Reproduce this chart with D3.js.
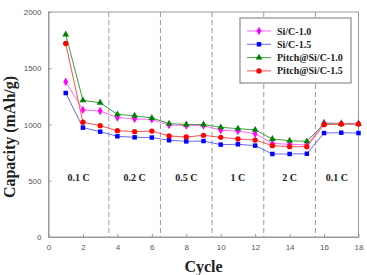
<!DOCTYPE html>
<html>
<head>
<meta charset="utf-8">
<script src="https://cdn.jsdelivr.net/npm/d3@7"></script>
<style>
body{margin:0;background:#fff;}
.tick text{font-family:"Liberation Sans",Arial,sans-serif;font-size:8px;fill:#555;}
</style>
</head>
<body>
<svg width="367" height="275"></svg>
<script>
const cycles=d3.range(1,19);
const siC10=[1380,1130,1120,1062,1050,1045,995,990,990,950,942,918,832,824,818,1015,1010,1010];
const siC15=[1280,972,936,895,886,884,860,850,853,821,824,812,738,738,740,924,927,924];
const pitch10=[1800,1215,1193,1090,1078,1058,1008,1000,1000,975,963,952,871,856,850,1008,1005,1005];
const pitch15=[1720,1020,990,945,936,942,898,889,904,886,871,862,812,803,803,998,1004,1004];
const seriesNames=["Si/C-1.0","Si/C-1.5","Pitch@Si/C-1.0","Pitch@Si/C-1.5"];
const rateLabels=["0.1 C","0.2 C","0.5 C","1 C","2 C","0.1 C"];
const rateBounds=[0,3.5,6.5,9.5,12.5,15.5,18];
const xTicks=[0,2,4,6,8,10,12,14,16,18];
const yTicks=[0,500,1000,1500,2000];

const svg=d3.select("svg");
const m={l:48.5,r:358.5,t:12,b:237};
const x=d3.scaleLinear().domain([0,18]).range([m.l,m.r]);
const y=d3.scaleLinear().domain([0,2000]).range([m.b,m.t]);
const g=svg.append("g");

const series=[
 {name:seriesNames[0],vals:siC10,mark:"#ff00ff",line:"#ff66ff",sym:d3.symbolDiamond,size:20},
 {name:seriesNames[1],vals:siC15,mark:"#0000ff",line:"#6a6aff",sym:d3.symbolSquare,size:20},
 {name:seriesNames[2],vals:pitch10,mark:"#008000",line:"#40a040",sym:d3.symbolTriangle,size:20},
 {name:seriesNames[3],vals:pitch15,mark:"#ff0000",line:"#ff5050",sym:d3.symbolCircle,size:22}
];

// frame
g.append("rect").attr("x",m.l).attr("y",m.t).attr("width",m.r-m.l).attr("height",m.b-m.t)
 .attr("fill","none").attr("stroke","#999").attr("stroke-width",1);

// dashed rate separators
g.selectAll(".sep").data(rateBounds.slice(1,-1)).enter().append("line")
 .attr("x1",d=>x(d)).attr("x2",d=>x(d)).attr("y1",m.t).attr("y2",m.b)
 .attr("stroke","#999").attr("stroke-width",1).attr("stroke-dasharray","5,3");

// axes
const xa=g.append("g").attr("transform","translate(0,"+m.b+")")
 .call(d3.axisBottom(x).tickValues(xTicks).tickFormat(d3.format("d")).tickSizeInner(-3).tickSizeOuter(0).tickPadding(7));
const ya=g.append("g").attr("transform","translate("+m.l+",0)")
 .call(d3.axisLeft(y).tickValues(yTicks).tickFormat(d3.format("d")).tickSizeInner(-3).tickSizeOuter(0).tickPadding(7));
[xa,ya].forEach(a=>{a.select(".domain").attr("stroke","#999");a.selectAll(".tick line").attr("stroke","#999");});

// rate labels
g.selectAll(".rate").data(rateLabels).enter().append("text")
 .attr("x",(d,i)=>x((rateBounds[i]+rateBounds[i+1])/2)).attr("y",181)
 .attr("text-anchor","middle").attr("font-family","Liberation Serif,Times New Roman,serif")
 .attr("font-weight","bold").attr("font-size","10px").attr("fill","#222").text(d=>d);

// series
const line=d3.line().x((d,i)=>x(cycles[i])).y(d=>y(d));
series.forEach(s=>{
 g.append("path").datum(s.vals).attr("d",line).attr("fill","none").attr("stroke",s.line).attr("stroke-width",1);
 g.selectAll(null).data(s.vals).enter().append("path")
  .attr("d",d3.symbol().type(s.sym).size(s.size))
  .attr("transform",(d,i)=>"translate("+x(cycles[i])+","+y(d)+")")
  .attr("fill",s.mark);
});

// legend
const lg=g.append("g").attr("transform","translate(240,18)");
lg.append("rect").attr("width",111).attr("height",65).attr("fill","#fff").attr("stroke","#777");
series.forEach((s,i)=>{
 const yy=13+i*13.3;
 lg.append("line").attr("x1",7).attr("x2",31).attr("y1",yy).attr("y2",yy).attr("stroke",s.line);
 lg.append("path").attr("d",d3.symbol().type(s.sym).size(s.size)).attr("transform","translate(19,"+yy+")").attr("fill",s.mark);
 lg.append("text").attr("x",37).attr("y",yy+3.5).attr("font-family","Liberation Serif,Times New Roman,serif")
  .attr("font-weight","bold").attr("font-size","10px").attr("fill","#222").text(s.name);
});

// axis titles
g.append("text").attr("x",(m.l+m.r)/2).attr("y",272).attr("text-anchor","middle")
 .attr("font-family","Liberation Serif,Times New Roman,serif").attr("font-weight","bold").attr("font-size","16px").attr("fill","#222").text("Cycle");
g.append("text").attr("transform","translate(15,137) rotate(-90)").attr("text-anchor","middle")
 .attr("font-family","Liberation Serif,Times New Roman,serif").attr("font-weight","bold").attr("font-size","16px").attr("fill","#222").text("Capacity (mAh/g)");
</script>
</body>
</html>
